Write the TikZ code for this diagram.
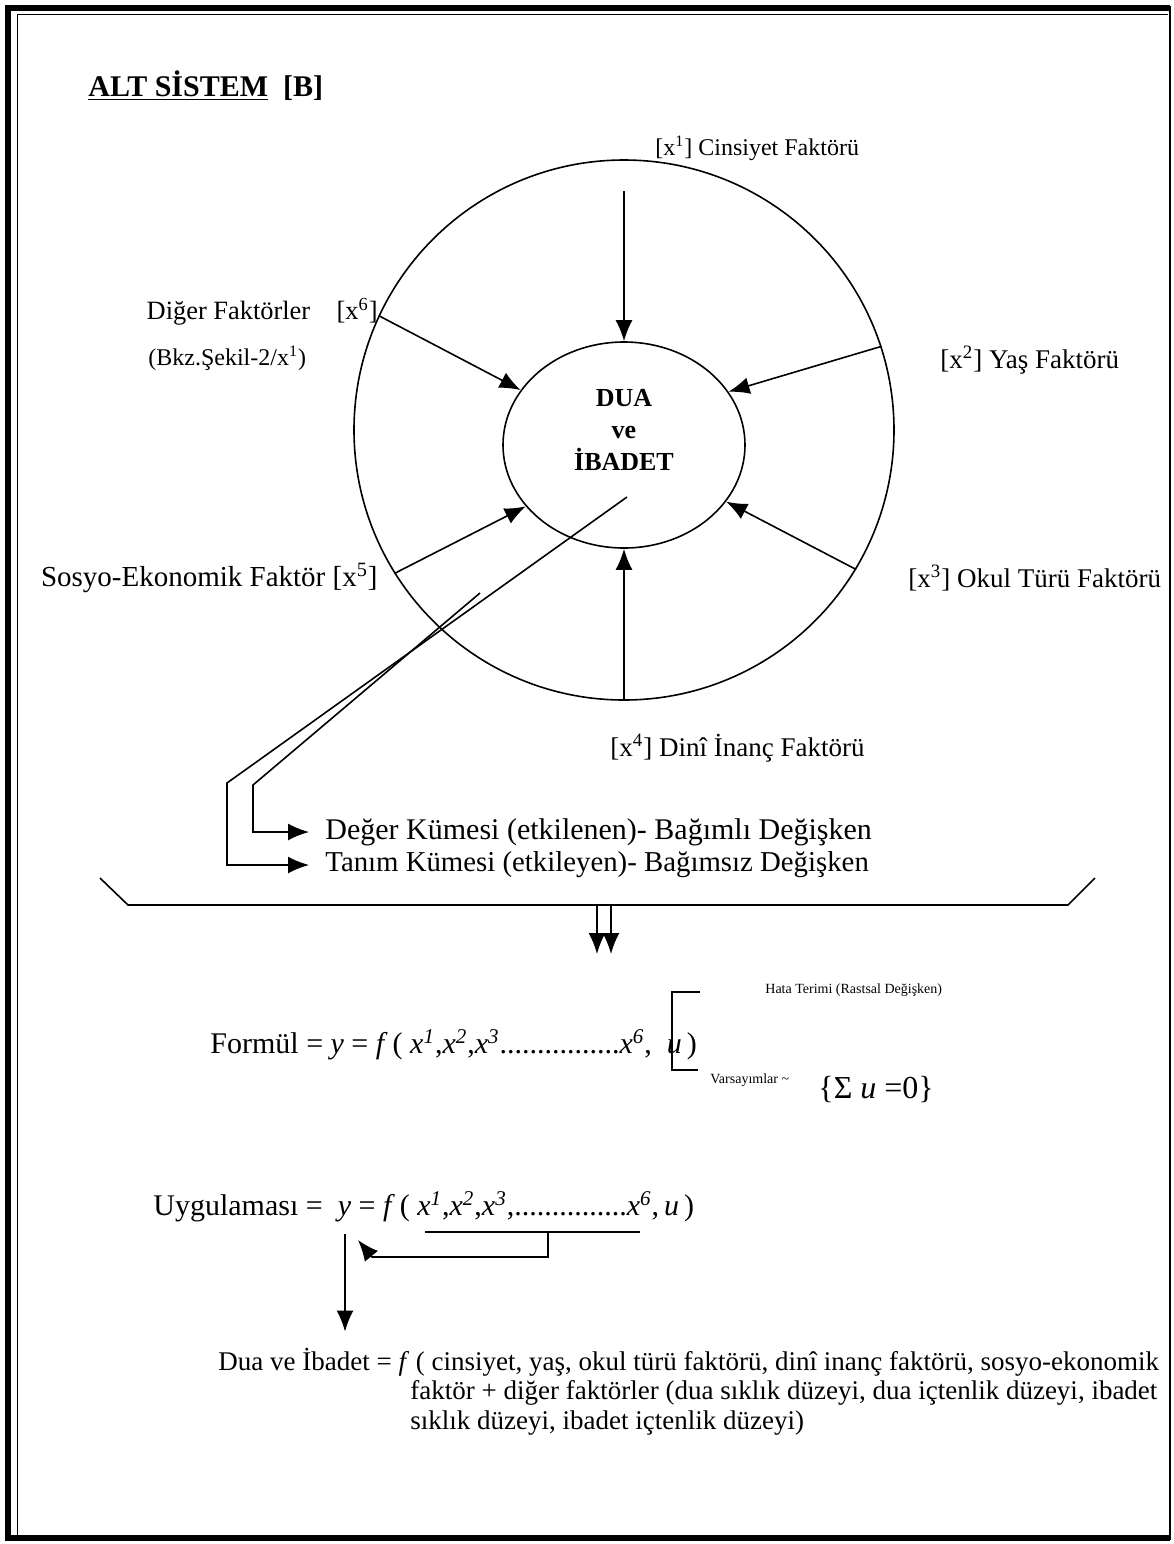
\documentclass[tikz,border=0pt]{standalone}
\usepackage{fontspec}
\setmainfont{Liberation Serif}
\usepackage{tikz}
\usetikzlibrary{shapes,arrows.meta,positioning,calc}
\newcommand{\xsup}[1]{\textit{x}\textsuperscript{\textit{#1}}}
\newcommand{\fsz}[1]{\fontsize{#1}{#1}\selectfont}

\begin{document}
\begin{tikzpicture}[x=0.5pt, y=-0.5pt]
  \tikzstyle{factor} = [inner sep=0pt, font=\fsz{13}]
  \tikzstyle{setlbl} = [inner sep=0pt, anchor=west, font=\fsz{14.6}]
  \tikzstyle{formula} = [inner sep=0pt, anchor=west, font=\fsz{15}]
  \tikzstyle{line} = [draw, -{Latex[length=10.5pt,width=8.5pt]}, line width=0.8pt]
  \useasboundingbox (0,0) rectangle (1174,1544);

  % frame
  \draw[line width=3pt] (1170,8) -- (8,8) -- (8,1538) -- (1170,1538);
  \draw[line width=0.7pt] (1170,6) -- (1170,1540);
  \draw[line width=0.5pt] (17,1535) -- (17,14) -- (1168,14);

  \node[anchor=west, inner sep=0pt, font=\bfseries\fsz{15}] (title) at (88,86) {\underline{ALT SİSTEM}\enspace[B]};

  % circles
  \node[draw, circle, minimum size=270pt, inner sep=0pt, line width=0.8pt] (ring) at (624,430) {};
  \node[draw, ellipse, minimum width=121pt, minimum height=103pt, inner sep=0pt, line width=0.8pt] (core) at (624,445) {};
  \node[align=center, inner sep=0pt, font=\bfseries\fontsize{13}{16}\selectfont] (coretxt) at (624,430) {DUA\\ve\\İBADET};

  % factors
  \node[factor, anchor=west, font=\fsz{12}] (x1lbl) at (655,148) {[x\textsuperscript{1}] Cinsiyet Faktörü};
  \node[factor, anchor=west, font=\fsz{13.5}] (x2lbl) at (940,360) {[x\textsuperscript{2}] Yaş Faktörü};
  \node[factor, anchor=west, font=\fsz{13.5}] (x3lbl) at (908,578) {[x\textsuperscript{3}] Okul Türü Faktörü};
  \node[factor, anchor=west, font=\fsz{13.5}] (x4lbl) at (610,748) {[x\textsuperscript{4}] Dinî İnanç Faktörü};
  \node[factor, anchor=east, font=\fsz{14.5}] (x5lbl) at (378,578) {Sosyo-Ekonomik Faktör [x\textsuperscript{5}]};
  \node[factor, anchor=east, font=\fsz{13.2}] (x6lbl) at (378,312) {Diğer Faktörler\quad[x\textsuperscript{6}]};
  \node[factor, anchor=west, font=\fsz{12}] (bkz) at (148,358) {(Bkz.Şekil-2/x\textsuperscript{1})};

  \path[line, shorten <=16pt] (ring.90) -- (core.90);
  \path[line] (ring.18) -- (core.27);
  \path[line] (ring.-31) -- (core.-29);
  \path[line] (ring.270) -- (core.270);
  \path[line] (ring.212) -- (core.212);
  \path[line] (ring.155) -- (core.152);

  % sets
  \node[setlbl, font=\fsz{15}] (deger) at (325,832) {Değer Kümesi (etkilenen)- Bağımlı Değişken};
  \node[setlbl, font=\fsz{14.4}] (tanim) at (325,865) {Tanım Kümesi (etkileyen)- Bağımsız Değişken};
  \coordinate (outA) at (627,497);
  \coordinate (outB) at (480,593);
  \path[line, shorten >=8pt] (outA) -- (227,783) |- (tanim.west);
  \path[line, shorten >=8pt] (outB) -- (253,785) |- (deger.west);

  \draw[line width=0.8pt] (100,878) -- (128,905) -- (1068,905) -- (1095,878);
  \coordinate (split) at (604,905);
  \coordinate (merge) at (604,954);
  \path[line] ([xshift=-3.5pt]split) -- ([xshift=-3.5pt]merge);
  \path[line] ([xshift=3.5pt]split) -- ([xshift=3.5pt]merge);

  % formula
  \node[formula] (formul) at (210,1045) {Formül = \textit{y} = \textit{f}\,( \xsup{1},\xsup{2},\xsup{3}................\xsup{6},\ \ \textit{u}\,)};
  \draw[line width=0.8pt] (700,992) -- (672,992) -- (672,1070) -- (698,1070);
  \node[anchor=west, inner sep=0pt, font=\fsz{7}] (hata) at (765,990) {Hata Terimi (Rastsal Değişken)};
  \node[anchor=west, inner sep=0pt, font=\fsz{7}] (varsay) at (710,1080) {Varsayımlar \textasciitilde};
  \node[anchor=west, inner sep=0pt, font=\fsz{16}] (sumu) at (818,1090) {\{Σ \textit{u} =0\}};

  \node[formula] (uygula) at (153,1207) {Uygulaması = \ \textit{y} = \textit{f}\,( \xsup{1},\xsup{2},\xsup{3},...............\xsup{6},\,\textit{u}\,)};
  \draw[line width=0.8pt] (425,1232) -- (640,1232);
  \coordinate (args) at (548,1232);
  \coordinate (ytip) at (358,1240);
  \path[line] (args) -- (548,1257) -- (372,1257) -- (ytip);
  \coordinate (ybase) at (345,1234);

  \node[anchor=west, inner sep=0pt, font=\fsz{13.5}] (dua) at (218,1362) {Dua ve İbadet = \textit{f} ( cinsiyet, yaş, okul türü faktörü, dinî inanç faktörü, sosyo-ekonomik};
  \node[anchor=north west, inner sep=0pt, align=left, font=\fontsize{13.5}{15}\selectfont] (dua2) at (410,1380) {faktör + diğer faktörler (dua sıklık düzeyi, dua içtenlik düzeyi, ibadet\\sıklık düzeyi, ibadet içtenlik düzeyi)};
  \path[line, shorten >=8pt] (ybase) -- (ybase |- dua.north);
\end{tikzpicture}
\end{document}
